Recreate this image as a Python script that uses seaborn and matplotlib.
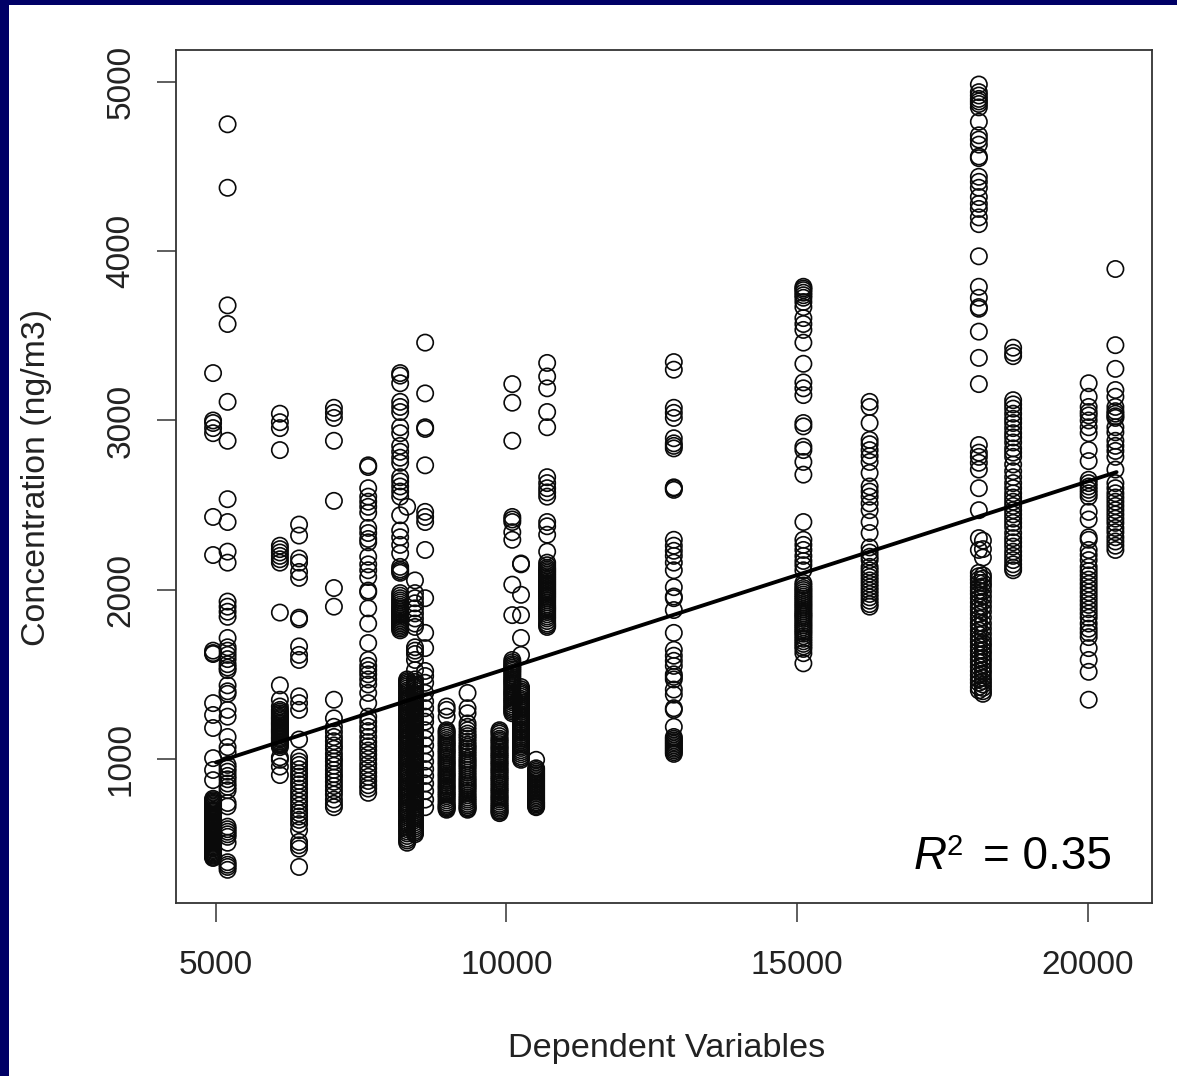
import matplotlib
matplotlib.use("Agg")
import matplotlib.pyplot as plt
import seaborn as sns
import pandas as pd
from matplotlib.patches import Rectangle

# x value of each column -> concentrations
c4950 = [3280,3000,2985,2955,2925,2430,2205,1640,1626,1620,1330,1260,1183,1005,935,875,
         765,757,750,742,735,727,718,709,700,694,688,680,672,664,655,648,640,631,622,616,610,604,598,589,580,572,565,558,552,546,540,532,525,517,510,504,498,490,482,476,470,462,455,447,440,434,428,421,415]
c5200 = [4750,4375,3680,3570,3110,2880,2535,2400,2225,2160,1930,1900,1870,1840,1715,1660,1640,1615,1590,1560,1540,1525,
         1435,1400,1385,1290,1250,1130,1070,1040,965,945,925,900,880,855,835,815,740,720,600,585,570,555,540,505,390,375,362,345]
c6100 = [3040,2990,2955,2825,2260,2240,2220,2200,2180,2160,1865,1435,1350,1310,1290,1280,1270,1260,1250,1242,1235,1225,1215,1208,1200,1190,1180,1172,1165,1158,1150,1140,1130,1122,1115,1105,1095,1088,1080,1070,1010,995,955,905]
c6430 = [2385,2320,2185,2160,2105,2070,1835,1825,1665,1615,1585,1370,1330,1290,1115,1010,985,965,940,915,895,870,850,825,800,775,750,725,700,680,660,640,615,580,510,490,470,362]
c7030 = [3075,3045,3015,2880,2525,2010,1900,1350,1240,1190,1160,1130,1105,1080,1060,1030,1005,985,960,935,910,890,865,840,815,790,760,735,715]
c7620 = [2735,2725,2600,2550,2520,2490,2455,2365,2335,2300,2280,2195,2150,2115,2075,1995,1985,1890,1800,1685,1585,1550,1525,1500,1470,1440,1390,1330,
         1250,1220,1190,1165,1130,1100,1075,1050,1025,1000,970,945,920,895,870,845,825,800]
c8170 = [3280,3265,3220,3110,3080,3050,2960,2925,2850,2815,2780,2750,2665,2640,2610,2580,2550,2440,2350,2310,2265,2215,2135,2120,2110,2100,
         1980,1965,1950,1937,1925,1912,1900,1890,1880,1870,1860,1850,1840,1830,1820,1810,1800,1790,1780,1770,1760]
c8290 = [2490,1470,1460,1450,1440,1430,1418,1405,1395,1385,1372,1360,1350,1340,1330,1320,1308,1295,1285,1275,1262,1250,1240,1230,1220,1210,1198,1185,1175,1165,1152,1140,1130,1120,1108,1095,1085,1075,1062,1050,1040,1030,1020,1010,998,985,975,965,952,940,930,920,910,900,888,875,865,855,842,830,820,810,800,790,780,770,758,745,735,725,712,700,690,680,668,655,642,630,620,610,598,585,572,560,545,530,518,505]
c8425 = [2055,1980,1950,1920,1890,1860,1830,1800,1780,1660,1640,1620,1585,1525,1470,1455,1440,1430,1420,1405,1390,1380,1370,1358,1345,1335,1325,1312,1300,1290,1280,1268,1255,1245,1235,1222,1210,1200,1190,1178,1165,1155,1145,1132,1120,1110,1100,1088,1075,1065,1055,1042,1030,1020,1010,998,985,975,965,952,940,930,920,908,895,885,875,862,850,840,830,818,805,795,785,772,760,750,740,728,715,705,695,682,670,660,650,638,625,612,600,588,575,565,555]
c8600 = [3460,3160,2960,2950,2735,2460,2430,2400,2235,1950,1745,1655,1520,1490,1450,1390,1340,1300,1250,1220,1170,1120,1080,1030,985,940,900,855,810,760,715]
c8970 = [1310,1290,1250,1170,1160,1150,1138,1125,1112,1100,1090,1080,1068,1055,1045,1035,1022,1010,998,985,975,965,952,940,928,915,905,895,882,870,858,845,835,825,812,800,790,780,768,755,742,730,722,715,708,700]
c9330 = [1390,1300,1270,1210,1190,1170,1150,1135,1120,1102,1085,1072,1060,1045,1030,1015,1000,988,975,962,950,935,920,905,890,878,865,852,840,828,815,800,785,772,760,748,735,725,715,708,700]
c9880 = [1170,1160,1150,1135,1120,1110,1100,1088,1075,1065,1055,1042,1030,1020,1010,998,985,975,965,952,940,930,920,908,895,885,875,862,850,838,825,815,805,792,780,770,760,748,735,725,715,705,695,688,680]
c10100 = [3215,3105,2880,2430,2415,2400,2340,2295,2030,1850,1585,1572,1560,1550,1540,1530,1520,1508,1495,1482,1470,1460,1450,1438,1425,1412,1400,1390,1380,1368,1355,1345,1335,1322,1310,1300,1290,1280,1270]
c10250 = [2155,2150,1970,1850,1715,1615,1425,1412,1400,1390,1380,1368,1355,1345,1335,1322,1310,1300,1290,1278,1265,1255,1245,1232,1220,1210,1200,1188,1175,1165,1155,1142,1130,1120,1110,1098,1085,1075,1065,1052,1040,1028,1015,1005,995]
c10510 = [995,945,935,925,915,905,895,885,875,865,855,845,835,825,815,805,795,785,775,765,755,745,738,730,722,715]
c10700 = [3340,3260,3190,3050,2960,2665,2630,2600,2575,2550,2400,2375,2325,2225,2160,2145,2130,2120,2110,2100,2090,2080,2070,2060,2050,2040,2030,2020,2010,2000,1990,1980,1970,1960,1950,1938,1925,1912,1900,1890,1880,1868,1855,1842,1830,1815,1800,1790,1780]
c12880 = [3345,3300,3075,3045,3015,2895,2865,2850,2835,2605,2600,2590,2295,2260,2230,2200,2160,2115,2015,1960,1950,1880,1745,1645,1610,1580,1550,1500,1485,1470,1410,1380,1300,1290,1190,1130,1120,1110,1100,1090,1080,1070,1060,1050,1040,1030]
c15110 = [3790,3780,3770,3755,3740,3725,3700,3670,3605,3570,3535,3460,3335,3225,3190,3150,2985,2965,2845,2825,2755,2680,2400,2295,2265,2235,2200,2170,2145,2115,2040,2025,2010,1998,1985,1972,1960,1948,1935,1922,1910,1898,1885,1872,1860,1850,1840,1828,1815,1802,1790,1778,1765,1752,1740,1725,1710,1695,1680,1665,1650,1625,1565]
c16250 = [3110,3080,2985,2885,2860,2825,2790,2755,2690,2610,2580,2550,2510,2470,2400,2335,2250,2220,2195,2175,2135,2115,2095,2075,2055,2035,2015,1995,1975,1955,1935,1915,1900]
c18130 = [4985,4940,4920,4900,4885,4870,4850,4765,4685,4660,4630,4560,4550,4440,4410,4375,4320,4280,4250,4200,4160,3970,3790,3725,3670,3660,3525,3370,3215,2855,2785,2810,2750,2710,2600,2470,2305,2235,
          2100,2080,2060,2040,2015,1995,1975,1950,1925,1900,1880,1855,1830,1805,1785,1760,1735,1710,1690,1665,1640,1615,1590,1570,1545,1520,1495,1470,1450,1425,1405]
c18200 = [2290,2240,2190,2085,2065,2040,2020,1990,1960,1930,1900,1870,1835,1800,1770,1740,1710,1685,1665,1640,1620,1595,1575,1550,1525,1505,1480,1460,1440,1420,1400,1385]
c18720 = [3430,3400,3380,3120,3095,3070,3040,3010,2985,2955,2925,2900,2870,2835,2810,2785,2740,2700,2665,2630,2600,2570,2545,2520,2495,2470,2445,2420,2395,2370,2335,2305,2280,2255,2225,2200,2175,2150,2130,2115]
c20020 = [3220,3140,3080,3050,3030,3000,2960,2925,2825,2760,2650,2630,2610,2590,2570,2550,2460,2415,2310,2295,2235,2205,2175,2135,2110,2085,2060,2035,2010,1985,1960,1935,1910,1885,1860,1835,1800,1770,1745,1720,1655,1585,1515,1350]
c20480 = [3895,3445,3305,3180,3140,3080,3055,3040,3025,3015,2960,2930,2880,2850,2820,2785,2710,2630,2600,2570,2545,2520,2495,2470,2445,2420,2395,2365,2340,2310,2285,2260,2235]

columns = {4950: c4950, 5200: c5200, 6100: c6100, 6430: c6430, 7030: c7030, 7620: c7620,
           8170: c8170, 8290: c8290, 8425: c8425, 8600: c8600, 8970: c8970, 9330: c9330,
           9880: c9880, 10100: c10100, 10250: c10250, 10510: c10510, 10700: c10700,
           12880: c12880, 15110: c15110, 16250: c16250, 18130: c18130, 18200: c18200,
           18720: c18720, 20020: c20020, 20480: c20480}

fit_x = [5000, 20500]
fit_y = [980, 2695]
x_ticks = [5000, 10000, 15000, 20000]
y_ticks = [1000, 2000, 3000, 4000, 5000]

df = pd.DataFrame([(x, y) for x, ys in columns.items() for y in ys], columns=["x", "y"])
fit = pd.DataFrame({"x": fit_x, "y": fit_y})

sns.set_theme(style="ticks")
plt.rcParams["font.family"] = ["Liberation Sans", "DejaVu Sans"]

W, H = 1177, 1076
fig = plt.figure(figsize=(W / 100, H / 100), dpi=100, facecolor="white")
navy = "#000066"
fig.add_artist(Rectangle((0, 0), 8.5 / W, 1, transform=fig.transFigure, color=navy, lw=0))
fig.add_artist(Rectangle((0, 1 - 4.5 / H), 1, 4.5 / H, transform=fig.transFigure, color=navy, lw=0))

ax = fig.add_axes([176 / W, 1 - 903 / H, (1152 - 176) / W, (903 - 50) / H])
sns.scatterplot(data=df, x="x", y="y", ax=ax, marker="o", s=138, facecolor="none",
                edgecolor="#0a0a0a", linewidth=1.2, legend=False, clip_on=False)
sns.lineplot(data=fit, x="x", y="y", ax=ax, color="black", linewidth=2.8, errorbar=None)

ax.set_xlim(4312, 21110)
ax.set_ylim(149, 5189)
ax.set_xticks(x_ticks)
ax.set_yticks(y_ticks)
ax.tick_params(axis="both", length=13.5, width=1.1, color="#333333", labelcolor="#222222",
               labelsize=24)
ax.tick_params(axis="x", pad=20)
ax.tick_params(axis="y", pad=15)
for t in ax.get_yticklabels():
    t.set_rotation(90)
    t.set_va("center")
for s in ax.spines.values():
    s.set_visible(True)
    s.set_linewidth(1.3)
    s.set_color("#333333")

ax.set_xlabel("")
ax.set_ylabel("")
fig.text(667 / W, 1 - 1048 / H, "Dependent Variables", fontsize=24.7, color="#222222",
         ha="center", va="center")
fig.text(37 / W, 1 - 478 / H, "Concentration (ng/m3)", fontsize=24.4, color="#222222",
         ha="center", va="center", rotation=90)
fig.text(914 / W, 1 - 869 / H, "R", fontsize=33, style="italic", color="black",
         ha="left", va="baseline")
fig.text(946 / W, 1 - 855 / H, "2", fontsize=21, color="black", ha="left", va="baseline")
fig.text(1112 / W, 1 - 869 / H, "= 0.35", fontsize=33, color="black", ha="right", va="baseline")

fig.savefig("out.png", dpi=100)
